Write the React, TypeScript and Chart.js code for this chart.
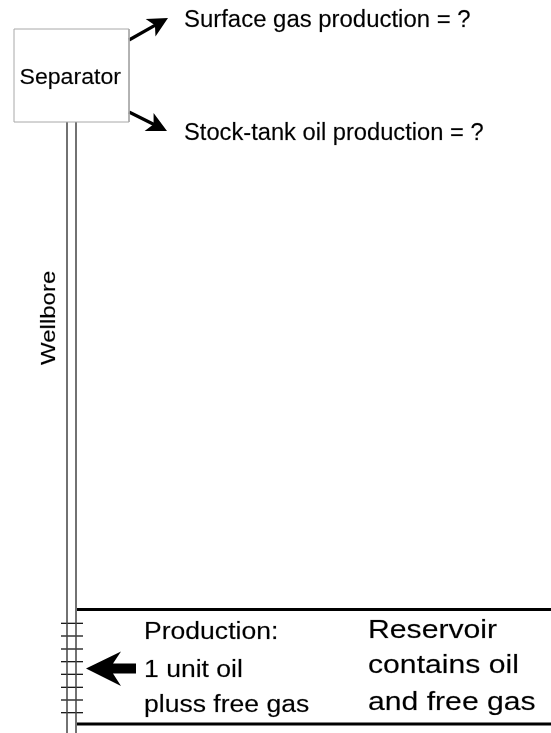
import React, { useEffect, useRef } from "react";
import { Chart, registerables } from "chart.js";
Chart.register(...registerables);

const WIDTH = 551;
const HEIGHT = 733;

// Diagram geometry (in pixel-like data units; y grows downward)
const separatorBox = [
  { x: 14, y: 29 },
  { x: 129, y: 29 },
  { x: 129, y: 122 },
  { x: 14, y: 122 },
  { x: 14, y: 29 },
];
const wellboreX = [67, 76];
const wellboreY = [122, 733];
const reservoirX = [77, 551];
const reservoirY = [609.5, 724];
const perforationX = [61, 83];
const perforationY = [623.3, 636, 649, 661.7, 674.3, 687.3, 700, 712.7];
const gasArrow = [
  { x: 129, y: 40 },
  { x: 168, y: 18 },
];
const oilArrow = [
  { x: 129, y: 112 },
  { x: 167, y: 131 },
];
const inflowArrow = [
  { x: 86, y: 668.5 },
  { x: 121, y: 651.5 },
  { x: 113, y: 663.5 },
  { x: 136, y: 663.5 },
  { x: 136, y: 673.5 },
  { x: 113, y: 673.5 },
  { x: 121, y: 686 },
];

// Texts
const separatorLabel = "Separator";
const gasLabel = "Surface gas production = ?";
const oilLabel = "Stock-tank oil production = ?";
const wellboreLabel = "Wellbore";
const productionLines = ["Production:", "1 unit oil", "pluss free gas"];
const reservoirLines = ["Reservoir", "contains oil", "and free gas"];

const FONT = '"Liberation Sans", Arial, Helvetica, sans-serif';

function lineSet(points: { x: number; y: number }[], color: string, width: number) {
  return {
    type: "scatter" as const,
    data: points,
    showLine: true,
    borderColor: color,
    backgroundColor: color,
    borderWidth: width,
    pointRadius: 0,
    pointHoverRadius: 0,
    fill: false,
    tension: 0,
    borderCapStyle: "butt" as const,
    clip: false as any,
  };
}

function shorten(a: { x: number; y: number }, b: { x: number; y: number }, d: number) {
  const dx = b.x - a.x, dy = b.y - a.y;
  const len = Math.hypot(dx, dy);
  return [a, { x: b.x - (dx / len) * d, y: b.y - (dy / len) * d }];
}

const diagramPlugin = {
  id: "diagramPlugin",
  afterDatasetsDraw(chart: any) {
    const { ctx, scales } = chart;
    const px = (v: number) => scales.x.getPixelForValue(v);
    const py = (v: number) => scales.y.getPixelForValue(v);

    const head = (s: { x: number; y: number }, t: { x: number; y: number }) => {
      const sx = px(s.x), sy = py(s.y), tx = px(t.x), ty = py(t.y);
      const dx = tx - sx, dy = ty - sy;
      const len = Math.hypot(dx, dy);
      const ux = dx / len, uy = dy / len;
      const nx = -uy, ny = ux;
      const L = 20, hw = 10;
      const bx = tx - ux * L, by = ty - uy * L;
      ctx.save();
      ctx.fillStyle = "#000";
      ctx.beginPath();
      ctx.moveTo(tx, ty);
      ctx.lineTo(bx + nx * hw, by + ny * hw);
      ctx.lineTo(tx - ux * L * 0.75, ty - uy * L * 0.75);
      ctx.lineTo(bx - nx * hw, by - ny * hw);
      ctx.closePath();
      ctx.fill();
      ctx.restore();
    };
    head(gasArrow[0], gasArrow[1]);
    head(oilArrow[0], oilArrow[1]);

    // inflow arrow
    ctx.save();
    ctx.fillStyle = "#000";
    ctx.beginPath();
    inflowArrow.forEach((p, i) => {
      if (i === 0) ctx.moveTo(px(p.x), py(p.y));
      else ctx.lineTo(px(p.x), py(p.y));
    });
    ctx.closePath();
    ctx.fill();
    ctx.restore();

    const text = (s: string, x: number, y: number, size: number, sxf: number, rot = 0) => {
      ctx.save();
      ctx.translate(px(x), py(y));
      if (rot) ctx.rotate(rot);
      ctx.scale(sxf, 1);
      ctx.font = `${size}px ${FONT}`;
      ctx.textAlign = "left";
      ctx.textBaseline = "alphabetic";
      ctx.fillStyle = "#000";
      ctx.strokeStyle = "rgba(0,0,0,0.35)";
      ctx.lineWidth = 0.4;
      ctx.fillText(s, 0, 0);
      ctx.strokeText(s, 0, 0);
      ctx.restore();
    };

    text(separatorLabel, 19.5, 84.3, 22, 1.05);
    text(gasLabel, 184, 26.5, 23, 1.04);
    text(oilLabel, 184, 140, 23, 1.03);
    text(wellboreLabel, 55, 365, 20, 1.2, -Math.PI / 2);

    const prodBase = [639.3, 676.7, 711.5];
    productionLines.forEach((s, i) => text(s, 144, prodBase[i], 23.5, 1.13));
    const resBase = [638.3, 673.3, 710];
    reservoirLines.forEach((s, i) => text(s, 368, resBase[i], 26, 1.16));
  },
};

export default function App() {
  const ref = useRef<HTMLCanvasElement | null>(null);

  useEffect(() => {
    document.body.style.margin = "0";
    const canvas = ref.current;
    if (!canvas) return;

    const datasets: any[] = [];
    datasets.push(lineSet(separatorBox, "#a8a8a8", 1));
    wellboreX.forEach((x) =>
      datasets.push(
        lineSet(
          wellboreY.map((y) => ({ x, y })),
          "#444444",
          1.5
        )
      )
    );
    perforationY.forEach((y) =>
      datasets.push(
        lineSet(
          perforationX.map((x) => ({ x, y })),
          "#000000",
          1.2
        )
      )
    );
    reservoirY.forEach((y) =>
      datasets.push(
        lineSet(
          reservoirX.map((x) => ({ x, y })),
          "#000000",
          3
        )
      )
    );
    datasets.push(lineSet(shorten(gasArrow[0], gasArrow[1], 10), "#000000", 3.2));
    datasets.push(lineSet(shorten(oilArrow[0], oilArrow[1], 10), "#000000", 3.2));

    const chart = new Chart(canvas, {
      type: "scatter",
      data: { datasets },
      options: {
        animation: false,
        responsive: false,
        maintainAspectRatio: false,
        devicePixelRatio: 1,
        events: [],
        layout: { padding: 0 },
        scales: {
          x: { type: "linear", min: 0, max: WIDTH, display: false },
          y: { type: "linear", min: 0, max: HEIGHT, reverse: true, display: false },
        },
        plugins: {
          legend: { display: false },
          tooltip: { enabled: false },
        },
      } as any,
      plugins: [diagramPlugin],
    });
    return () => chart.destroy();
  }, []);

  return (
    <div style={{ width: WIDTH, height: HEIGHT, background: "#fff" }}>
      <canvas ref={ref} width={WIDTH} height={HEIGHT} style={{ display: "block" }} />
    </div>
  );
}
